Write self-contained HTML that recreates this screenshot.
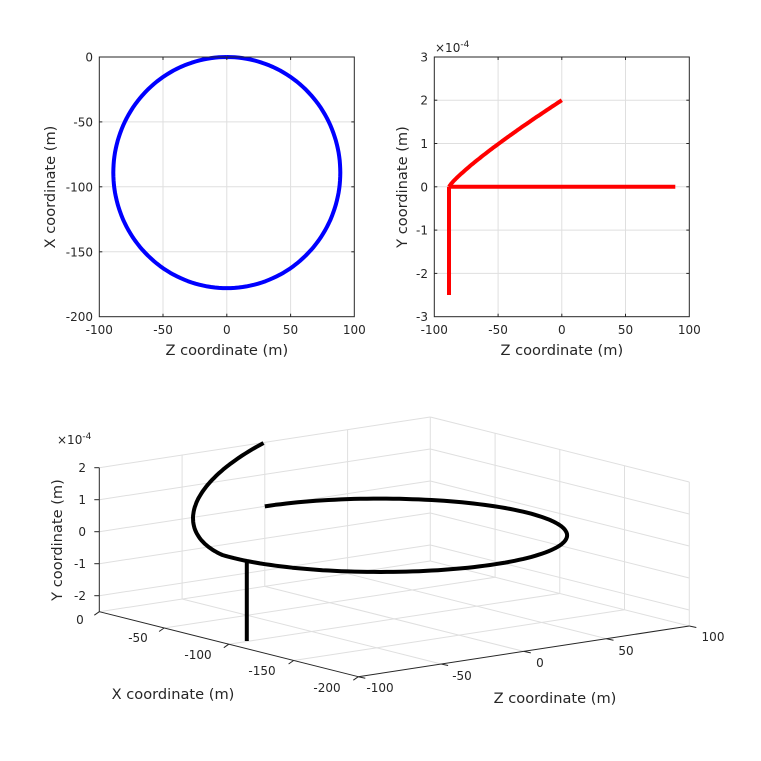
<!DOCTYPE html>
<html><head><meta charset="utf-8"><style>
html,body{margin:0;padding:0;background:#fff;width:761px;height:761px;overflow:hidden}
svg{display:block}
text{font-family:"DejaVu Sans","Liberation Sans",sans-serif;fill:#262626}
</style></head><body>
<svg id="s" width="761" height="761" viewBox="0 0 761 761" xmlns="http://www.w3.org/2000/svg"></svg>
<script>
var S=document.getElementById('s');var out='';
function L(x1,y1,x2,y2,c,w){out+='<line x1="'+x1.toFixed(1)+'" y1="'+y1.toFixed(1)+'" x2="'+x2.toFixed(1)+'" y2="'+y2.toFixed(1)+'" stroke="'+c+'" stroke-width="'+(w||1)+'"/>';}
function T(x,y,s,anc,fs,extra){out+='<text x="'+x+'" y="'+y+'" font-size="'+(fs||12)+'" text-anchor="'+(anc||'middle')+'" '+(extra||'')+'>'+s+'</text>';}
function PL(pts,c,w){out+='<polyline fill="none" stroke="'+c+'" stroke-width="'+w+'" stroke-linejoin="round" stroke-linecap="butt" points="'+pts.map(function(p){return p[0].toFixed(1)+','+p[1].toFixed(1)}).join(' ')+'"/>';}
var G='#dfdfdf',A='#262626',LF=14.6;
function Yf(Z){var u=(Z+88.5)/88.5;if(u<0)u=0;return 2*Math.pow(u,0.85);}
(function(){
var x0=99.3,x1=354.3,y0=57,y1=316.7;
function px(Z){return x0+(Z+100)*1.275}function py(X){return y0-X*1.2985}
for(var Z=-50;Z<=50;Z+=50)L(px(Z),y0,px(Z),y1,G);
for(var X=-50;X>=-150;X-=50)L(x0,py(X),x1,py(X),G);
var p=[];for(var i=0;i<=360;i+=2){var t=i*Math.PI/180;p.push([px(89*Math.sin(t)),py(-89+89*Math.cos(t))]);}
PL(p,'#0000ff',4);
out+='<rect x="'+x0+'" y="'+y0+'" width="'+(x1-x0)+'" height="'+(y1-y0)+'" fill="none" stroke="'+A+'" stroke-width="1"/>';
for(var Z=-100;Z<=100;Z+=50){T(px(Z),334,Z<0?'-'+(-Z):Z);if(Z>-100&&Z<100){L(px(Z),y1,px(Z),y1-3,A);L(px(Z),y0,px(Z),y0+3,A);}}
for(var X=0;X>=-200;X-=50){T(93,py(X)+4.5,X<0?'-'+(-X):X,'end');if(X<0&&X>-200){L(x0,py(X),x0+3,py(X),A);L(x1,py(X),x1-3,py(X),A);}}
T((x0+x1)/2,355,'Z coordinate (m)','middle',LF);
T(0,0,'X coordinate (m)','middle',LF,'transform="translate(55,187) rotate(-90)"');
})();
(function(){
var x0=434.3,x1=689.3,y0=57,y1=316.7;
function px(Z){return x0+(Z+100)*1.275}function py(Y){return 186.8-Y*43.28}
for(var Z=-50;Z<=50;Z+=50)L(px(Z),y0,px(Z),y1,G);
for(var Y=-2;Y<=2;Y++)L(x0,py(Y),x1,py(Y),G);
PL([[px(-88.5),py(-2.5)],[px(-88.5),py(0)]],'#ff0000',4);
PL([[px(-88.5),py(0)],[px(89),py(0)]],'#ff0000',4);
var p=[];for(var Z=-88.5;Z<=0.01;Z+=1.5)p.push([px(Z),py(Yf(Z))]);PL(p,'#ff0000',4);
out+='<rect x="'+x0+'" y="'+y0+'" width="'+(x1-x0)+'" height="'+(y1-y0)+'" fill="none" stroke="'+A+'" stroke-width="1"/>';
for(var Z=-100;Z<=100;Z+=50){T(px(Z),334,Z<0?'-'+(-Z):Z);if(Z>-100&&Z<100){L(px(Z),y1,px(Z),y1-3,A);L(px(Z),y0,px(Z),y0+3,A);}}
for(var Y=-3;Y<=3;Y++){T(428,py(Y)+4.5,Y<0?'-'+(-Y):Y,'end');if(Y>-3&&Y<3){L(x0,py(Y),x0+3,py(Y),A);L(x1,py(Y),x1-3,py(Y),A);}}
T(435,52,'×10<tspan font-size="9" dy="-5">-4</tspan>','start',12);
T((x0+x1)/2,355,'Z coordinate (m)','middle',LF);
T(0,0,'Y coordinate (m)','middle',LF,'transform="translate(407,187) rotate(-90)"');
})();
(function(){
function P(X,Y,Z){var a=-X/200,b=(Z+100)/200;return [99.3+a*259+b*331,611.7+a*65-b*50.7-(Y+2.5)*32];}
function LL(p,q,c,w){L(p[0],p[1],q[0],q[1],c,w);}
for(var Z=-50;Z<=100;Z+=50)LL(P(0,-2.5,Z),P(0,2,Z),G);
for(var Y=-2;Y<=2;Y++)LL(P(0,Y,-100),P(0,Y,100),G);
for(var X=-50;X>=-200;X-=50)LL(P(X,-2.5,100),P(X,2,100),G);
for(var Y=-2;Y<=2;Y++)LL(P(0,Y,100),P(-200,Y,100),G);
for(var X=-50;X>=-150;X-=50)LL(P(X,-2.5,-100),P(X,-2.5,100),G);
for(var Z=-50;Z<=50;Z+=50)LL(P(0,-2.5,Z),P(-200,-2.5,Z),G);
LL(P(0,-2.5,100),P(-200,-2.5,100),G);LL(P(0,-2.5,100),P(0,-2.5,-100),G);
LL(P(0,-2.5,-100),P(0,2,-100),A);
LL(P(0,-2.5,-100),P(-200,-2.5,-100),A);
LL(P(-200,-2.5,-100),P(-200,-2.5,100),A);
for(var Y=-2;Y<=2;Y++){var q=P(0,Y,-100);L(q[0]-5,q[1],q[0],q[1],A);T(86,q[1]+4.5,Y<0?'-'+(-Y):Y,'end');}
var xl=[[0,80,624],[-50,138,642],[-100,198,659],[-150,262,675],[-200,327,692]];
xl.forEach(function(e){var q=P(e[0],-2.5,-100);L(q[0],q[1],q[0]-5,q[1]+3.5,A);T(e[1],e[2],e[0]<0?'-'+(-e[0]):e[0]);});
var zl=[[-100,380,692],[-50,462,680],[0,540,667],[50,626,655],[100,713,641]];
zl.forEach(function(e){var q=P(-200,-2.5,e[0]);L(q[0],q[1],q[0]+7,q[1]+1.5,A);T(e[1],e[2],e[0]<0?'-'+(-e[0]):e[0]);});
T(57,444,'×10<tspan font-size="9" dy="-5">-4</tspan>','start',12);
T(173,699,'X coordinate (m)','middle',LF);
T(555,703,'Z coordinate (m)','middle',LF);
T(0,0,'Y coordinate (m)','middle',LF,'transform="translate(62,540) rotate(-90)"');
var p=[];var tv=263.5;
for(var i=0;i<=tv;i+=2){var t=i*Math.PI/180;p.push(P(-89+89*Math.cos(t),0,89*Math.sin(t)));}
var t=tv*Math.PI/180;var Xv=-89+89*Math.cos(t),Zv=89*Math.sin(t);p.push(P(Xv,0,Zv));
for(var i=tv+1.5;i<=360;i+=1.5){var t=i*Math.PI/180;var Z=89*Math.sin(t);p.push(P(-89+89*Math.cos(t),Yf(Z),Z));}
PL(p,'#000',4);
PL([P(Xv,0,Zv),P(Xv,-2.5,Zv)],'#000',4);
})();
S.innerHTML=out;
</script>
</body></html>
